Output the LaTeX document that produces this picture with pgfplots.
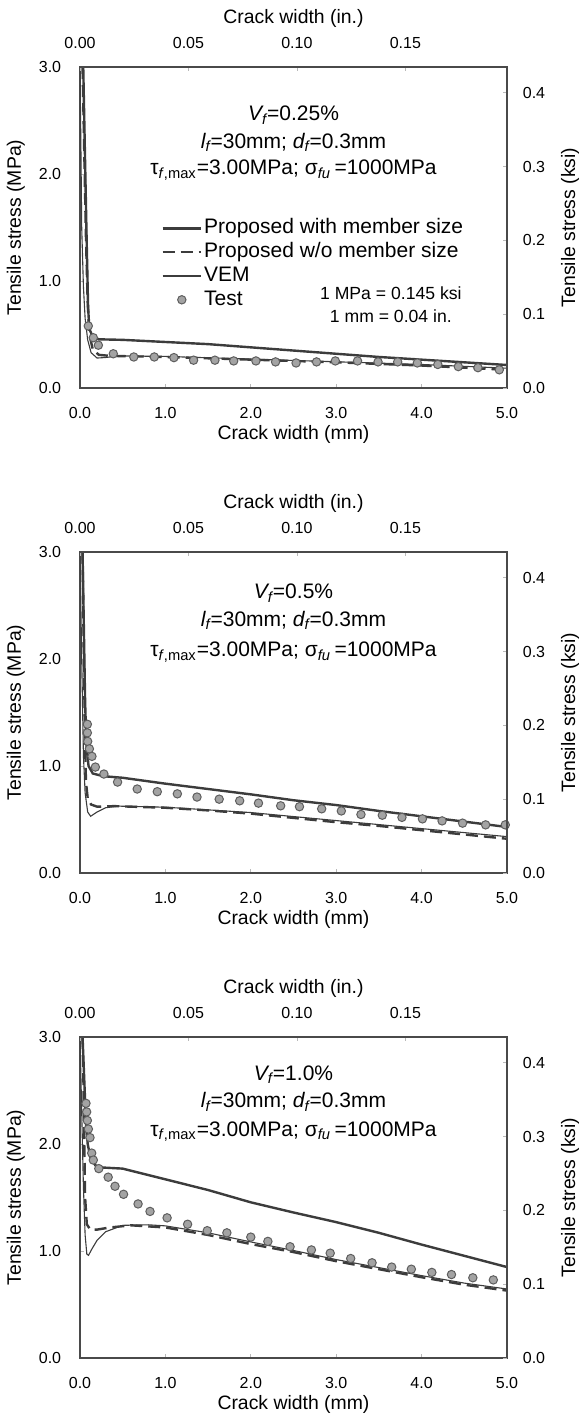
\documentclass[border=0pt]{standalone}
\usepackage{pgfplots}
\pgfplotsset{compat=1.18}
\usepackage{fontspec}
\setmainfont{Liberation Sans}
\definecolor{curve}{HTML}{3C3C3C}
\definecolor{frame}{HTML}{4A4A4A}
\definecolor{dotfill}{HTML}{A3A3A3}
\definecolor{dotedge}{HTML}{5E5E5E}

\tikzset{
  note/.style={font=\fontsize{10.5}{12}\selectfont, anchor=center},
  conv/.style={font=\fontsize{8.8}{10}\selectfont, anchor=center},
}
\pgfplotsset{
  panel/.style={
    scale only axis, width=213.5pt, height=160.5pt,
    anchor=north west,
    axis line style={frame, line width=1pt},
    tick align=inside, major tick length=2pt,
    tick style={gray!55, line width=0.4pt},
    scaled ticks=false,
    ticklabel style={font=\fontsize{8}{9.6}\selectfont},
    label style={font=\fontsize{9.7}{11}\selectfont},
  },
  mm/.style={panel, xmin=0, xmax=5, ymin=0, ymax=3,
    xtick={0,1,2,3,4,5}, xticklabels={0.0,1.0,2.0,3.0,4.0,5.0},
    ytick={0,1,2,3}, yticklabels={0.0,1.0,2.0,3.0},
    xtick pos=left, ytick pos=left,
    xticklabel style={anchor=center, yshift=-12.5pt},
    yticklabel style={anchor=center, xshift=-15pt},
    xlabel={Crack width (mm)}, ylabel={Tensile stress (MPa)},
    xlabel style={at={(axis description cs:0.5,-0.146)}, anchor=center},
    ylabel style={at={(axis description cs:-0.15,0.5)}, anchor=center}},
  inch/.style={panel, xmin=0, xmax=0.19685, ymin=0, ymax=0.435,
    axis x line*=top, axis y line*=right,
    xtick={0,0.05,0.1,0.15}, xticklabels={0.00,0.05,0.10,0.15},
    ytick={0,0.1,0.2,0.3,0.4}, yticklabels={0.0,0.1,0.2,0.3,0.4},
    xticklabel style={anchor=center, yshift=12pt},
    yticklabel style={anchor=center, xshift=13.5pt},
    xlabel={Crack width (in.)}, ylabel={Tensile stress (ksi)},
    xlabel style={at={(axis description cs:0.5,1.1526)}, anchor=center},
    ylabel style={at={(axis description cs:1.1475,0.5)}, anchor=center}},
  prop/.style={curve, line width=1.2pt},
  nosize/.style={curve, line width=1.2pt, dash pattern=on 6pt off 3pt},
  vem/.style={curve, line width=0.55pt},
  test/.style={only marks, mark=*, mark size=2.1pt,
    mark options={fill=dotfill, draw=dotedge, line width=0.5pt}},
}

\newcommand{\params}{%
  {\itshape l}\textsubscript{\itshape f}=30mm; {\itshape d}\textsubscript{\itshape f}=0.3mm}
\newcommand{\bond}{%
  τ\textsubscript{\itshape f\/\upshape ,max}=3.00MPa; σ\textsubscript{\itshape fu}\,=1000MPa}

\begin{document}
\begin{tikzpicture}
\path[use as bounding box] (0,0) rectangle (292pt,-709.5pt);

% ---------------- Vf = 0.25 %
\begin{axis}[mm, at={(40pt,-33.5pt)},
  legend style={draw=none, fill=none, at={(axis description cs:0.176,0.548)},
    anchor=north west, font=\fontsize{10.5}{12}\selectfont,
    nodes={inner sep=1pt, text height=7.7pt, text depth=2.2pt}},
  legend cell align=left,
  legend image code/.code={\draw[mark repeat=2,mark phase=2,#1]
    plot coordinates {(0cm,0cm) (0.335cm,0cm) (0.67cm,0cm)};}]
\addplot[prop] coordinates {(0.038,3.0) (0.06,2.1) (0.08,1.3) (0.095,0.75) (0.11,0.55)
  (0.15,0.48) (0.22,0.455) (0.5,0.45) (1.0,0.43) (1.5,0.41) (2.0,0.38) (2.5,0.35)
  (3.0,0.32) (3.5,0.29) (4.0,0.265) (4.5,0.24) (5.0,0.215)};
\addlegendentry{Proposed with member size}
\addplot[nosize] coordinates {(0.03,3.0) (0.05,2.2) (0.07,1.4) (0.09,0.8) (0.11,0.5)
  (0.15,0.36) (0.22,0.31) (0.35,0.30) (1.0,0.29) (2.0,0.265) (3.0,0.24) (4.0,0.21) (5.0,0.17)};
\addlegendentry{Proposed w/o member size}
\addplot[vem] coordinates {(0.0,3.0) (0.01,2.3) (0.02,1.5) (0.04,0.95) (0.06,0.65)
  (0.09,0.45) (0.13,0.33) (0.2,0.28) (0.3,0.285) (0.45,0.30) (1.0,0.295) (2.0,0.27)
  (3.0,0.245) (4.0,0.22) (5.0,0.185)};
\addlegendentry{VEM}
\addplot[test] coordinates {(0.097,0.58) (0.156,0.47) (0.215,0.40) (0.39,0.32) (0.63,0.29)
  (0.87,0.29) (1.10,0.284) (1.33,0.26) (1.58,0.26) (1.80,0.253) (2.06,0.253) (2.29,0.244)
  (2.53,0.234) (2.77,0.244) (2.99,0.253) (3.25,0.253) (3.49,0.244) (3.72,0.244)
  (3.95,0.234) (4.19,0.22) (4.43,0.20) (4.66,0.19) (4.91,0.17)};
\addlegendentry{Test}
\node[note] at (axis description cs:0.5,0.850) {{\itshape V}\textsubscript{\itshape f}=0.25\%};
\node[note] at (axis description cs:0.5,0.766) {\params};
\node[note] at (axis description cs:0.5,0.679) {\bond};
\node[conv] at (axis description cs:0.728,0.296) {1 MPa = 0.145 ksi};
\node[conv] at (axis description cs:0.728,0.224) {1 mm = 0.04 in.};
\end{axis}
\begin{axis}[inch, at={(40pt,-33.5pt)}]
\end{axis}

% ---------------- Vf = 0.5 %
\begin{axis}[mm, at={(40pt,-276pt)}]
\addplot[prop] coordinates {(0.03,3.0) (0.045,2.3) (0.06,1.6) (0.075,1.2) (0.1,1.0)
  (0.15,0.93) (0.27,0.905) (0.5,0.89) (1.0,0.835) (1.5,0.785) (2.0,0.735) (2.5,0.68)
  (3.0,0.635) (3.5,0.58) (4.0,0.53) (4.5,0.48) (5.0,0.43)};
\addplot[nosize] coordinates {(0.03,3.0) (0.045,2.0) (0.06,1.2) (0.07,0.85) (0.09,0.7)
  (0.13,0.64) (0.2,0.62) (0.4,0.625) (1.0,0.61) (1.5,0.585) (2.0,0.555) (2.5,0.515)
  (3.0,0.475) (3.5,0.44) (4.0,0.40) (4.5,0.36) (5.0,0.32)};
\addplot[vem] coordinates {(0.0,3.0) (0.02,2.0) (0.04,1.1) (0.06,0.75) (0.09,0.57)
  (0.125,0.53) (0.2,0.57) (0.3,0.61) (0.45,0.625) (1.0,0.615) (2.0,0.565) (3.0,0.49)
  (4.0,0.415) (5.0,0.34)};
\addplot[test] coordinates {(0.086,1.39) (0.086,1.31) (0.09,1.23) (0.11,1.16) (0.14,1.09)
  (0.18,0.99) (0.28,0.925) (0.44,0.85) (0.67,0.785) (0.905,0.76) (1.14,0.74) (1.37,0.71)
  (1.63,0.69) (1.87,0.675) (2.09,0.653) (2.35,0.628) (2.57,0.62) (2.83,0.60) (3.06,0.58)
  (3.29,0.547) (3.54,0.54) (3.77,0.52) (4.01,0.506) (4.24,0.487) (4.48,0.466)
  (4.75,0.45) (4.98,0.45)};
\node[note] at (axis description cs:0.5,0.872) {{\itshape V}\textsubscript{\itshape f}=0.5\%};
\node[note] at (axis description cs:0.5,0.788) {\params};
\node[note] at (axis description cs:0.5,0.688) {\bond};
\end{axis}
\begin{axis}[inch, at={(40pt,-276pt)}]
\end{axis}

% ---------------- Vf = 1.0 %
\begin{axis}[mm, at={(40pt,-518.5pt)}]
\addplot[prop] coordinates {(0.03,3.0) (0.05,2.6) (0.07,2.2) (0.09,2.0) (0.12,1.88)
  (0.18,1.8) (0.27,1.78) (0.5,1.77) (1.0,1.67) (1.5,1.57) (2.0,1.455) (2.5,1.36)
  (3.0,1.27) (3.5,1.17) (4.0,1.06) (4.5,0.955) (5.0,0.85)};
\addplot[nosize] coordinates {(0.03,3.0) (0.04,2.6) (0.05,2.0) (0.06,1.5) (0.08,1.25)
  (0.12,1.2) (0.2,1.2) (0.35,1.22) (0.6,1.24) (1.0,1.22) (1.5,1.15) (2.0,1.065)
  (2.5,0.99) (3.0,0.905) (3.5,0.83) (4.0,0.755) (4.5,0.685) (5.0,0.63)};
\addplot[vem] coordinates {(0.0,3.0) (0.02,2.3) (0.04,1.6) (0.06,1.15) (0.08,0.97)
  (0.1,0.96) (0.14,1.02) (0.2,1.1) (0.3,1.18) (0.5,1.24) (0.8,1.245) (1.0,1.235)
  (1.5,1.17) (2.0,1.085) (2.5,1.005) (3.0,0.92) (3.5,0.845) (4.0,0.77) (4.5,0.70) (5.0,0.645)};
\addplot[test] coordinates {(0.07,2.38) (0.078,2.30) (0.086,2.22) (0.098,2.14) (0.117,2.06)
  (0.137,1.915) (0.156,1.85) (0.22,1.77) (0.33,1.69) (0.41,1.605) (0.51,1.53) (0.68,1.44)
  (0.82,1.37) (1.02,1.31) (1.26,1.25) (1.49,1.19) (1.72,1.17) (2.0,1.13) (2.2,1.09)
  (2.46,1.04) (2.71,1.01) (2.93,0.98) (3.17,0.93) (3.42,0.89) (3.65,0.85) (3.88,0.83)
  (4.12,0.80) (4.35,0.78) (4.6,0.75) (4.84,0.73)};
\node[note] at (axis description cs:0.5,0.882) {{\itshape V}\textsubscript{\itshape f}=1.0\%};
\node[note] at (axis description cs:0.5,0.798) {\params};
\node[note] at (axis description cs:0.5,0.705) {\bond};
\end{axis}
\begin{axis}[inch, at={(40pt,-518.5pt)}]
\end{axis}
\end{tikzpicture}
\end{document}
